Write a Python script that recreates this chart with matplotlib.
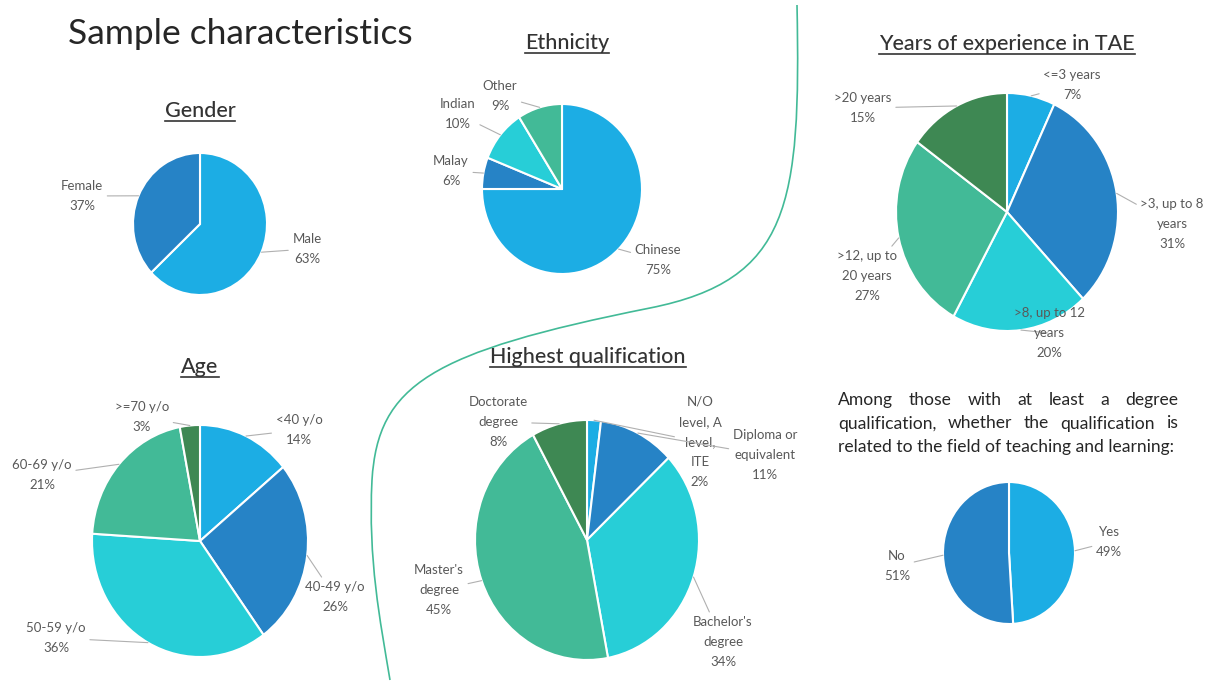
import matplotlib
matplotlib.use('Agg')
import matplotlib.pyplot as plt
from matplotlib.lines import Line2D
from matplotlib.path import Path
from matplotlib.patches import PathPatch
import numpy as np

plt.rcParams['font.family'] = ['Lato', 'DejaVu Sans']

W, H = 1219, 682
PALETTE = ['#1cade4', '#2683c6', '#27ced7', '#42ba97', '#3e8853']
LABEL_COLOR = '#595959'
LEADER_COLOR = '#b0b0b0'

# Survey breakdowns (percent)
gender_labels = ['Male', 'Female']
gender_values = [63, 37]

ethnicity_labels = ['Chinese', 'Malay', 'Indian', 'Other']
ethnicity_values = [75, 6, 10, 9]

tae_labels = ['<=3 years', '>3, up to 8\nyears', '>8, up to 12\nyears',
              '>12, up to\n20 years', '>20 years']
tae_values = [7, 31, 20, 27, 15]

age_labels = ['<40 y/o', '40-49 y/o', '50-59 y/o', '60-69 y/o', '>=70 y/o']
age_values = [14, 26, 36, 21, 3]

qual_labels = ['N/O\nlevel, A\nlevel,\nITE', 'Diploma or\nequivalent',
               "Bachelor's\ndegree", "Master's\ndegree", 'Doctorate\ndegree']
qual_values = [2, 11, 34, 45, 8]

related_labels = ['Yes', 'No']
related_values = [49, 51]

fig = plt.figure(figsize=(W / 100, H / 100), dpi=100)
fig.patch.set_facecolor('white')


def px(x, y):
    return x / W, 1 - y / H


def draw_pie(cx, cy, rx, ry, values, labels, spots):
    ax = fig.add_axes([(cx - rx) / W, 1 - (cy + ry) / H, 2 * rx / W, 2 * ry / H])
    wedges, _ = ax.pie(values, colors=PALETTE[:len(values)], startangle=90,
                       counterclock=False,
                       wedgeprops=dict(edgecolor='white', linewidth=1.5))
    ax.set_aspect('auto')
    ax.set_xlim(-1, 1)
    ax.set_ylim(-1, 1)
    for w in wedges:
        w.set_clip_on(False)
    for w, lab, v, (lx, ly) in zip(wedges, labels, values, spots):
        mid = np.deg2rad((w.theta1 + w.theta2) / 2)
        edge = (np.cos(mid), np.sin(mid))
        ax.annotate(f'{lab}\n{v}%', xy=edge,
                    xytext=((lx - cx) / rx, (cy - ly) / ry),
                    ha='center', va='center', fontsize=9.5, color=LABEL_COLOR,
                    linespacing=1.8, annotation_clip=False,
                    arrowprops=dict(arrowstyle='-', color=LEADER_COLOR, lw=0.8,
                                    shrinkA=1, shrinkB=0))
    return ax


draw_pie(200, 224, 67, 71, gender_values, gender_labels,
         [(307, 249), (82, 196)])
draw_pie(562, 189, 80, 85, ethnicity_values, ethnicity_labels,
         [(658, 260), (451, 171), (458, 114), (500, 96)])
draw_pie(1007, 212, 111, 119, tae_values, tae_labels,
         [(1072, 85), (1172, 224), (1049, 333), (867, 276), (863, 108)])
draw_pie(200, 541, 108, 116, age_values, age_labels,
         [(299, 430), (335, 597), (56, 638), (42, 475), (142, 417)])
draw_pie(587, 540, 112, 120, qual_values, qual_labels,
         [(700, 442), (765, 455), (723, 642), (439, 590), (498, 422)])
draw_pie(1009, 553, 66, 71, related_values, related_labels,
         [(1109, 542), (897, 566)])

# Main title
fig.text(*px(68, 44), 'Sample characteristics', fontsize=25.5,
         color='#262626', ha='left', va='baseline')

renderer = fig.canvas.get_renderer()

# Underlined panel headings
headings = [('Gender', 200, 117), ('Ethnicity', 567, 49),
            ('Years of experience in TAE', 1007, 50), ('Age', 200, 373),
            ('Highest qualification', 588, 363)]
for txt, hx, hy in headings:
    t = fig.text(*px(hx, hy), txt, fontsize=15.5, color='#333333',
                 ha='center', va='baseline', fontweight='medium')
    bb = t.get_window_extent(renderer)
    uy = 1 - (hy + 4) / H
    fig.add_artist(Line2D([bb.x0 / W, bb.x1 / W], [uy, uy],
                          transform=fig.transFigure, color='#333333', lw=1.2))

# Justified note above the yes/no pie
note = ['Among those with at least a degree',
        'qualification, whether the qualification is',
        'related to the field of teaching and learning:']
left, right = 838, 1178
for i, line in enumerate(note):
    base = 405 + i * 23.5
    words = line.split()
    if i == len(note) - 1:
        fig.text(*px(left, base), line, fontsize=12.6, color='#262626',
                 ha='left', va='baseline')
        continue
    arts = [fig.text(0, 0, w_, fontsize=12.6, color='#262626', va='baseline')
            for w_ in words]
    widths = [a.get_window_extent(renderer).width for a in arts]
    gap = (right - left - sum(widths)) / (len(words) - 1)
    x = left
    for a, wd in zip(arts, widths):
        a.set_position(px(x, base))
        x += wd + gap

# Decorative divider curve
verts = [(797, 5), (801, 205), (790, 280), (650, 308),
         (430, 352), (378, 385), (372, 480),
         (368, 560), (380, 620), (390, 680)]
codes = [Path.MOVETO] + [Path.CURVE4] * 9
curve = Path([px(x, y) for x, y in verts], codes)
fig.add_artist(PathPatch(curve, transform=fig.transFigure, fill=False,
                         edgecolor='#42ba97', lw=1.2))

fig.savefig('out.png', dpi=100, facecolor='white')
